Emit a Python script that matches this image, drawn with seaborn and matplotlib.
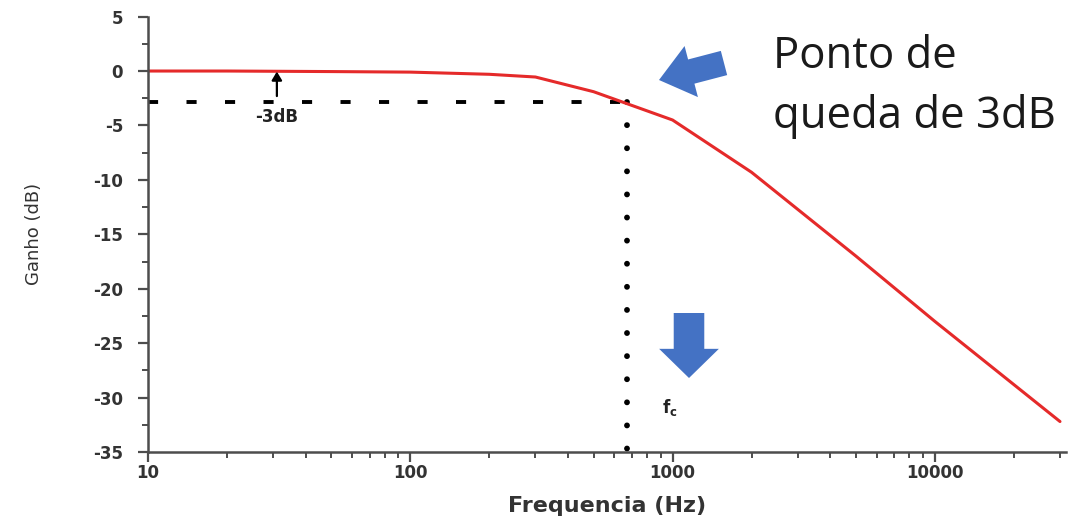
import matplotlib
matplotlib.use("Agg")
import matplotlib.pyplot as plt
import seaborn as sns
import pandas as pd
from matplotlib.ticker import AutoMinorLocator, FixedLocator, FixedFormatter

# resposta em frequencia
freq_hz = [10, 20, 50, 100, 200, 300, 500, 1000, 2000, 5000, 10000, 30000]
ganho_db = [0.0, 0.0, -0.05, -0.1, -0.3, -0.55, -1.9, -4.5, -9.3, -17.0, -23.0, -32.2]

# ponto de corte
fc_hz = 673
nivel_3db = -2.8

x_ticks = [10, 100, 1000, 10000]
x_tick_labels = ["10", "100", "1000", "10000"]
y_ticks = [5, 0, -5, -10, -15, -20, -25, -30, -35]

df = pd.DataFrame({"Frequencia": freq_hz, "Ganho": ganho_db})

sns.set_style("ticks")
plt.rcParams["font.family"] = ["DejaVu Sans"]
plt.rcParams["axes.unicode_minus"] = False

fig = plt.figure(figsize=(10.7, 5.19), dpi=100)
ax = fig.add_axes([148 / 1070, 1 - 452 / 519, (1066 - 148) / 1070, (452 - 16.6) / 519])

sns.lineplot(data=df, x="Frequencia", y="Ganho", color="#e52a2a", linewidth=2.2, ax=ax)
ax.set_xscale("log")
ax.set_xlim(10, 10 ** 4.5)
ax.set_ylim(-35, 5)

# linha tracejada do -3dB e linha pontilhada em fc
ax.plot([10, fc_hz], [nivel_3db, nivel_3db], color="black", lw=2.8, dashes=(2.6, 7.3),
        dash_capstyle="butt", zorder=1)
ax.plot([fc_hz, fc_hz], [nivel_3db, -35], color="black", lw=4.2, dashes=(0.01, 3.95),
        dash_capstyle="round", zorder=1)

# seta 0 -> -3dB
ax.annotate("", xy=(31, -0.05), xytext=(31, nivel_3db + 0.5),
            arrowprops=dict(arrowstyle="-|>,head_width=0.3,head_length=0.5", color="black", lw=1.6,
                            shrinkA=0, shrinkB=0))
ax.text(31, -4.2, "-3dB", ha="center", va="center", fontsize=12, fontweight="bold", color="#222222")

ax.text(975, -30.9, r"$\mathbf{f}_\mathbf{c}$", ha="center", va="center", fontsize=12, color="#222222")

# setas azuis
azul = "#4472c4"
ax.annotate("", xy=(659, 439), xycoords="figure pixels", xytext=(724, 456), textcoords="figure pixels",
            arrowprops=dict(arrowstyle="simple,head_length=2.4,head_width=3.8,tail_width=1.8",
                            fc=azul, ec="none", mutation_scale=10, shrinkA=0, shrinkB=0))
ax.annotate("", xy=(689, 141), xycoords="figure pixels", xytext=(689, 206), textcoords="figure pixels",
            arrowprops=dict(arrowstyle="simple,head_length=2.1,head_width=4.3,tail_width=2.2",
                            fc=azul, ec="none", mutation_scale=10, shrinkA=0, shrinkB=0))

fig.text(773 / 1070, 1 - 68 / 519, "Ponto de", fontsize=31.5, family="Open Sans", color="#1a1a1a",
         ha="left", va="baseline")
fig.text(773 / 1070, 1 - 128 / 519, "queda de 3dB", fontsize=31.5, family="Open Sans", color="#1a1a1a",
         ha="left", va="baseline")

# eixos
ax.xaxis.set_major_locator(FixedLocator(x_ticks))
ax.xaxis.set_major_formatter(FixedFormatter(x_tick_labels))
ax.set_yticks(y_ticks)
ax.yaxis.set_minor_locator(AutoMinorLocator(2))
sns.despine(ax=ax)
for s in ["left", "bottom"]:
    ax.spines[s].set_color("#4d4d4d")
    ax.spines[s].set_linewidth(1.8)
ax.tick_params(which="major", direction="out", length=7, width=1.6, color="#4d4d4d",
               labelsize=12)
ax.tick_params(axis="y", which="major", pad=11)
ax.tick_params(axis="x", which="major", pad=2)
ax.tick_params(which="minor", direction="out", length=4, width=1.4, color="#4d4d4d")
for lab in ax.get_xticklabels() + ax.get_yticklabels():
    lab.set_fontweight("bold")
    lab.set_color("#333333")

ax.set_xlabel("Frequencia (Hz)", fontsize=16, fontweight="bold", color="#333333", labelpad=10)
ax.set_ylabel("Ganho (dB)", fontsize=13, color="#333333", labelpad=36)

fig.savefig("out.png", dpi=100)
